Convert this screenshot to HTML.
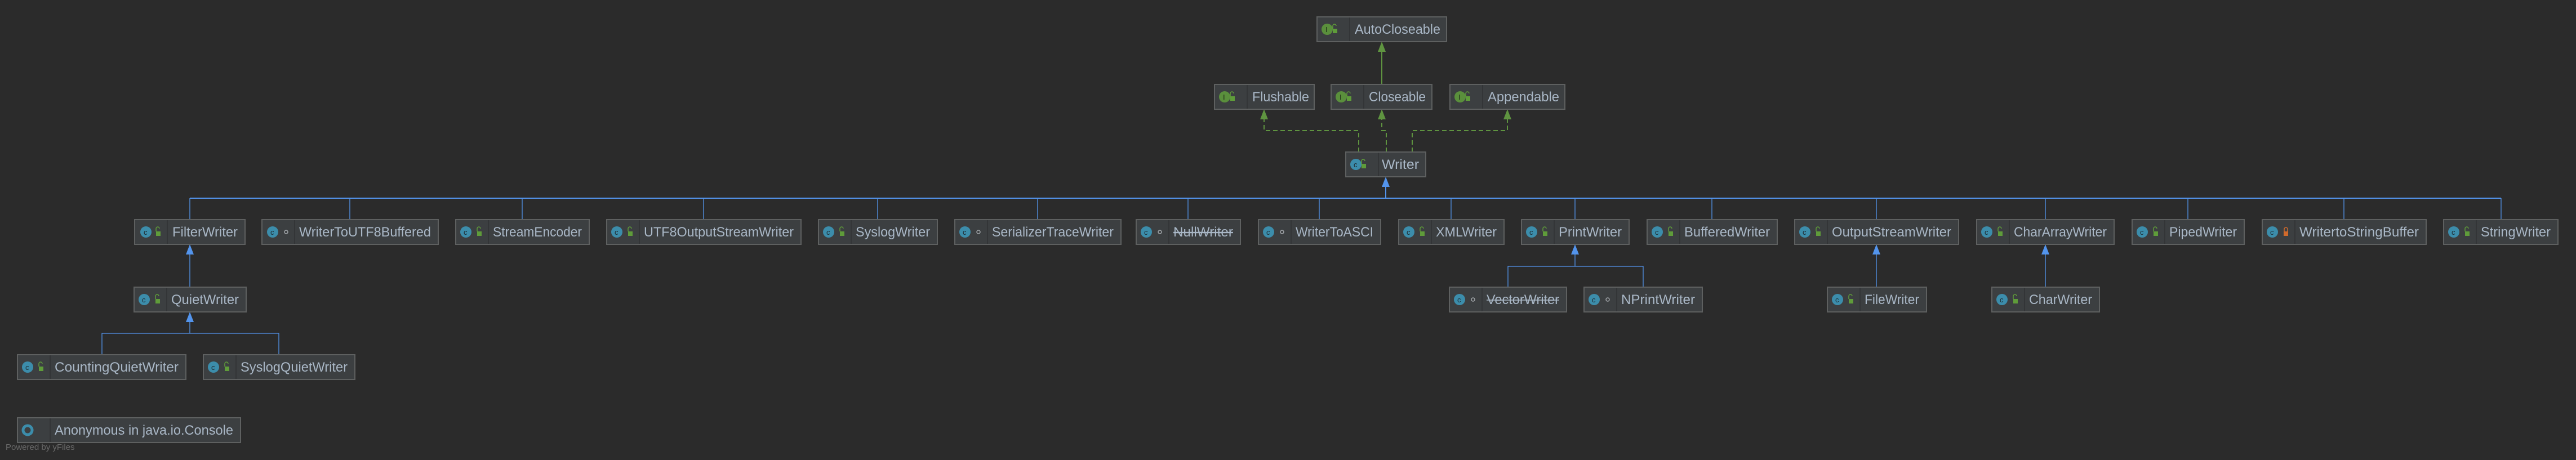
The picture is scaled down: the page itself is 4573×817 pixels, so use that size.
<!DOCTYPE html>
<html><head><meta charset="utf-8"><style>
html,body{margin:0;padding:0;background:#2b2b2b;}
svg{display:block}
text{font-family:"Liberation Sans",sans-serif;font-size:24px;fill:#a9b7c6}
.b{fill:#3c3f41;stroke:#5e6060;stroke-width:2}
.d{stroke:#333537;stroke-width:2}
.bl{stroke:#5394ec;fill:none;stroke-width:2}
.gr{stroke:#5f9440;fill:none;stroke-width:2}
.gd{stroke:#5f9440;fill:none;stroke-width:2;stroke-dasharray:8,5}
.ah{fill:#5394ec}.ag{fill:#5f9440}
</style></head><body>
<svg width="4573" height="817" viewBox="0 0 4573 817" xmlns="http://www.w3.org/2000/svg">
<defs>
<g id="ci"><circle cx="0" cy="0" r="10" fill="#3c8dab"/><text x="-4" y="5" style="font-size:13px;fill:#1e2a30">c</text></g>
<g id="ii"><circle cx="0" cy="0" r="10" fill="#5a8f3c"/><text x="-3" y="5" style="font-size:13px;fill:#1f2a18">I</text></g>
<g id="lk"><rect x="-4" y="-1" width="8" height="8" fill="#5f9c3a"/><path d="M-4,-1 v-5 a3,3 0 0 1 6,0" stroke="#5f9c3a" stroke-width="1.5" fill="none"/></g>
<g id="lo"><rect x="-4" y="-1" width="8" height="8" fill="#d06a2c"/><path d="M-3,-1 v-4 a3,3 0 0 1 6,0 v4" stroke="#d06a2c" stroke-width="1.5" fill="none"/></g>
<g id="dt"><circle cx="0" cy="0" r="3" fill="none" stroke="#a0a4a8" stroke-width="1.5"/></g>
</defs>

<!-- connectors green -->
<path class="gr" d="M2453,150 V84"/><polygon class="ag" points="2453,74 2446,92 2460,92"/>
<path class="gd" d="M2412,270 V232 H2244 V204"/><polygon class="ag" points="2244,194 2237,212 2251,212"/>
<path class="gd" d="M2461,270 V232 H2453 V204"/><polygon class="ag" points="2453,194 2446,212 2460,212"/>
<path class="gd" d="M2507,270 V232 H2676 V204"/><polygon class="ag" points="2676,194 2669,212 2683,212"/>

<!-- blue main bus -->
<path class="bl" d="M2460,330 V352"/><polygon class="ah" points="2460,314 2453,332 2467,332"/>
<path class="bl" d="M337,352 H4440"/>
<g class="bl" style="stroke-width:1.3">
<path d="M337,352V390M621,352V390M927,352V390M1249,352V390M1558,352V390M1842,352V390M2109,352V390M2342,352V390M2576,352V390M2796,352V390M3039,352V390M3331,352V390M3631,352V390M3884,352V390M4161,352V390M4440,352V390"/>
<path d="M337,452V510M181,630V592H495V630M337,592V572"/>
<path d="M2796,452V473M2677,510V473H2917V510"/>
<path d="M3331,452V510M3631,452V510"/>
</g>
<polygon class="ah" points="337,434 330,452 344,452"/>
<polygon class="ah" points="337,554 330,572 344,572"/>
<polygon class="ah" points="2796,434 2789,452 2803,452"/>
<polygon class="ah" points="3331,434 3324,452 3338,452"/>
<polygon class="ah" points="3631,434 3624,452 3638,452"/>

<!-- boxes -->
<g>
<rect class="b" x="2338" y="30" width="230" height="44"/><line class="d" x1="2396" y1="31" x2="2396" y2="73"/><use href="#ii" x="2356" y="52"/><use href="#lk" x="2370" y="52"/><text x="2405" y="60" textLength="152" lengthAdjust="spacingAndGlyphs">AutoCloseable</text>

<rect class="b" x="2156" y="150" width="177" height="44"/><line class="d" x1="2214" y1="151" x2="2214" y2="193"/><use href="#ii" x="2174" y="172"/><use href="#lk" x="2188" y="172"/><text x="2223" y="180" textLength="101" lengthAdjust="spacingAndGlyphs">Flushable</text>
<rect class="b" x="2363" y="150" width="179" height="44"/><line class="d" x1="2421" y1="151" x2="2421" y2="193"/><use href="#ii" x="2381" y="172"/><use href="#lk" x="2395" y="172"/><text x="2430" y="180" textLength="101" lengthAdjust="spacingAndGlyphs">Closeable</text>
<rect class="b" x="2574" y="150" width="204" height="44"/><line class="d" x1="2632" y1="151" x2="2632" y2="193"/><use href="#ii" x="2592" y="172"/><use href="#lk" x="2606" y="172"/><text x="2641" y="180" textLength="127" lengthAdjust="spacingAndGlyphs">Appendable</text>

<rect class="b" x="2389" y="270" width="142" height="44"/><line class="d" x1="2447" y1="271" x2="2447" y2="313"/><use href="#ci" x="2407" y="292"/><use href="#lk" x="2421" y="292"/><text x="2453" y="300" textLength="66" lengthAdjust="spacingAndGlyphs">Writer</text>

<rect class="b" x="239" y="390" width="196" height="44"/><line class="d" x1="297" y1="391" x2="297" y2="433"/><use href="#ci" x="259" y="412"/><use href="#lk" x="281" y="412"/><text x="306" y="420" textLength="116" lengthAdjust="spacingAndGlyphs">FilterWriter</text>
<rect class="b" x="465" y="390" width="313" height="44"/><line class="d" x1="523" y1="391" x2="523" y2="433"/><use href="#ci" x="484" y="412"/><use href="#dt" x="508" y="412"/><text x="531" y="420" textLength="234" lengthAdjust="spacingAndGlyphs">WriterToUTF8Buffered</text>
<rect class="b" x="809" y="390" width="237" height="44"/><line class="d" x1="867" y1="391" x2="867" y2="433"/><use href="#ci" x="827" y="412"/><use href="#lk" x="851" y="412"/><text x="875" y="420" textLength="158" lengthAdjust="spacingAndGlyphs">StreamEncoder</text>
<rect class="b" x="1077" y="390" width="345" height="44"/><line class="d" x1="1135" y1="391" x2="1135" y2="433"/><use href="#ci" x="1095" y="412"/><use href="#lk" x="1119" y="412"/><text x="1143" y="420" textLength="266" lengthAdjust="spacingAndGlyphs">UTF8OutputStreamWriter</text>
<rect class="b" x="1453" y="390" width="211" height="44"/><line class="d" x1="1511" y1="391" x2="1511" y2="433"/><use href="#ci" x="1471" y="412"/><use href="#lk" x="1495" y="412"/><text x="1519" y="420" textLength="132" lengthAdjust="spacingAndGlyphs">SyslogWriter</text>
<rect class="b" x="1695" y="390" width="295" height="44"/><line class="d" x1="1753" y1="391" x2="1753" y2="433"/><use href="#ci" x="1713" y="412"/><use href="#dt" x="1737" y="412"/><text x="1761" y="420" textLength="216" lengthAdjust="spacingAndGlyphs">SerializerTraceWriter</text>
<rect class="b" x="2017" y="390" width="185" height="44"/><line class="d" x1="2075" y1="391" x2="2075" y2="433"/><use href="#ci" x="2035" y="412"/><use href="#dt" x="2059" y="412"/><text x="2083" y="420" textLength="106" lengthAdjust="spacingAndGlyphs" text-decoration="line-through">NullWriter</text><line x1="2083" y1="413" x2="2189" y2="413" stroke="#a9b7c6" stroke-width="1.5"/>
<rect class="b" x="2234" y="390" width="217" height="44"/><line class="d" x1="2292" y1="391" x2="2292" y2="433"/><use href="#ci" x="2252" y="412"/><use href="#dt" x="2276" y="412"/><text x="2300" y="420" textLength="138" lengthAdjust="spacingAndGlyphs">WriterToASCI</text>
<rect class="b" x="2483" y="390" width="187" height="44"/><line class="d" x1="2541" y1="391" x2="2541" y2="433"/><use href="#ci" x="2501" y="412"/><use href="#lk" x="2525" y="412"/><text x="2549" y="420" textLength="108" lengthAdjust="spacingAndGlyphs">XMLWriter</text>
<rect class="b" x="2701" y="390" width="191" height="44"/><line class="d" x1="2759" y1="391" x2="2759" y2="433"/><use href="#ci" x="2719" y="412"/><use href="#lk" x="2743" y="412"/><text x="2767" y="420" textLength="112" lengthAdjust="spacingAndGlyphs">PrintWriter</text>
<rect class="b" x="2924" y="390" width="231" height="44"/><line class="d" x1="2982" y1="391" x2="2982" y2="433"/><use href="#ci" x="2942" y="412"/><use href="#lk" x="2966" y="412"/><text x="2990" y="420" textLength="152" lengthAdjust="spacingAndGlyphs">BufferedWriter</text>
<rect class="b" x="3186" y="390" width="291" height="44"/><line class="d" x1="3244" y1="391" x2="3244" y2="433"/><use href="#ci" x="3204" y="412"/><use href="#lk" x="3228" y="412"/><text x="3252" y="420" textLength="212" lengthAdjust="spacingAndGlyphs">OutputStreamWriter</text>
<rect class="b" x="3509" y="390" width="244" height="44"/><line class="d" x1="3567" y1="391" x2="3567" y2="433"/><use href="#ci" x="3527" y="412"/><use href="#lk" x="3551" y="412"/><text x="3575" y="420" textLength="165" lengthAdjust="spacingAndGlyphs">CharArrayWriter</text>
<rect class="b" x="3785" y="390" width="199" height="44"/><line class="d" x1="3843" y1="391" x2="3843" y2="433"/><use href="#ci" x="3803" y="412"/><use href="#lk" x="3827" y="412"/><text x="3851" y="420" textLength="120" lengthAdjust="spacingAndGlyphs">PipedWriter</text>
<rect class="b" x="4016" y="390" width="291" height="44"/><line class="d" x1="4074" y1="391" x2="4074" y2="433"/><use href="#ci" x="4034" y="412"/><use href="#lo" x="4058" y="412"/><text x="4082" y="420" textLength="212" lengthAdjust="spacingAndGlyphs">WritertoStringBuffer</text>
<rect class="b" x="4338" y="390" width="203" height="44"/><line class="d" x1="4396" y1="391" x2="4396" y2="433"/><use href="#ci" x="4356" y="412"/><use href="#lk" x="4380" y="412"/><text x="4404" y="420" textLength="124" lengthAdjust="spacingAndGlyphs">StringWriter</text>

<rect class="b" x="238" y="510" width="199" height="44"/><line class="d" x1="296" y1="511" x2="296" y2="553"/><use href="#ci" x="256" y="532"/><use href="#lk" x="280" y="532"/><text x="304" y="540" textLength="120" lengthAdjust="spacingAndGlyphs">QuietWriter</text>
<rect class="b" x="2573" y="510" width="208" height="44"/><line class="d" x1="2631" y1="511" x2="2631" y2="553"/><use href="#ci" x="2591" y="532"/><use href="#dt" x="2615" y="532"/><text x="2639" y="540" textLength="129" lengthAdjust="spacingAndGlyphs">VectorWriter</text><line x1="2639" y1="533" x2="2768" y2="533" stroke="#a9b7c6" stroke-width="1.5"/>
<rect class="b" x="2812" y="510" width="210" height="44"/><line class="d" x1="2870" y1="511" x2="2870" y2="553"/><use href="#ci" x="2830" y="532"/><use href="#dt" x="2854" y="532"/><text x="2878" y="540" textLength="131" lengthAdjust="spacingAndGlyphs">NPrintWriter</text>
<rect class="b" x="3244" y="510" width="176" height="44"/><line class="d" x1="3302" y1="511" x2="3302" y2="553"/><use href="#ci" x="3262" y="532"/><use href="#lk" x="3286" y="532"/><text x="3310" y="540" textLength="97" lengthAdjust="spacingAndGlyphs">FileWriter</text>
<rect class="b" x="3536" y="510" width="191" height="44"/><line class="d" x1="3594" y1="511" x2="3594" y2="553"/><use href="#ci" x="3554" y="532"/><use href="#lk" x="3578" y="532"/><text x="3602" y="540" textLength="112" lengthAdjust="spacingAndGlyphs">CharWriter</text>

<rect class="b" x="31" y="630" width="299" height="44"/><line class="d" x1="89" y1="631" x2="89" y2="673"/><use href="#ci" x="49" y="652"/><use href="#lk" x="73" y="652"/><text x="97" y="660" textLength="220" lengthAdjust="spacingAndGlyphs">CountingQuietWriter</text>
<rect class="b" x="361" y="630" width="269" height="44"/><line class="d" x1="419" y1="631" x2="419" y2="673"/><use href="#ci" x="379" y="652"/><use href="#lk" x="403" y="652"/><text x="427" y="660" textLength="190" lengthAdjust="spacingAndGlyphs">SyslogQuietWriter</text>

<rect class="b" x="31" y="742" width="396" height="44"/><line class="d" x1="89" y1="743" x2="89" y2="785"/><circle cx="49" cy="764" r="8" fill="none" stroke="#3c8dab" stroke-width="5"/><text x="97" y="772" textLength="317" lengthAdjust="spacingAndGlyphs">Anonymous in java.io.Console</text>
</g>
<text x="10" y="799" style="font-size:15px;fill:#6a6a6a">Powered by yFiles</text>
</svg>
</body></html>
